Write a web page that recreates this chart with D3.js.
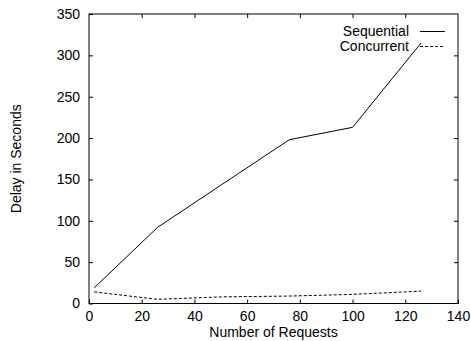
<!DOCTYPE html>
<html>
<head>
<meta charset="utf-8">
<script src="https://cdn.jsdelivr.net/npm/d3@7"></script>
<style>
  body { margin: 0; background: #fff; }
  svg { display: block; font-family: "Liberation Sans", Arial, sans-serif; }
</style>
</head>
<body>
<div id="chart"></div>
<script>
// data
const requests = [2, 26, 50, 76, 100, 126];
const sequential = [19, 92, 143, 198, 213, 315];
const concurrent = [14, 5, 8, 9, 11, 15];
const xTicks = [0, 20, 40, 60, 80, 100, 120, 140];
const yTicks = [0, 50, 100, 150, 200, 250, 300, 350];

const width = 471, height = 341;
const margin = { top: 14, right: 13, bottom: 37.5, left: 89 };
const fontSize = 14;

const svg = d3.select('#chart')
  .append('svg')
  .attr('width', width)
  .attr('height', height);

const x = d3.scaleLinear().domain([0, 140]).range([margin.left, width - margin.right]);
const y = d3.scaleLinear().domain([0, 350]).range([height - margin.bottom, margin.top]);

const tickLen = 4;

// axes with inward ticks, mirrored on top and right
svg.append('g')
  .attr('transform', `translate(0,${y(0)})`)
  .call(d3.axisBottom(x).tickValues(xTicks).tickSizeInner(-tickLen).tickSizeOuter(0).tickPadding(8))
  .call(g => g.select('.domain').remove());

svg.append('g')
  .attr('transform', `translate(0,${y(350)})`)
  .call(d3.axisTop(x).tickValues(xTicks.slice(1, -1)).tickSizeInner(-tickLen).tickSizeOuter(0).tickFormat(''))
  .call(g => g.select('.domain').remove());

svg.append('g')
  .attr('transform', `translate(${x(0)},0)`)
  .call(d3.axisLeft(y).tickValues(yTicks).tickSizeInner(-tickLen).tickSizeOuter(0).tickPadding(9))
  .call(g => g.select('.domain').remove());

svg.append('g')
  .attr('transform', `translate(${x(140)},0)`)
  .call(d3.axisRight(y).tickValues(yTicks.slice(1, -1)).tickSizeInner(-tickLen).tickSizeOuter(0).tickFormat(''))
  .call(g => g.select('.domain').remove());

svg.selectAll('.tick text')
  .attr('font-size', fontSize)
  .attr('font-family', '"Liberation Sans", Arial, sans-serif')
  .attr('fill', '#000');
svg.selectAll('.tick line').attr('stroke', '#000');

// frame
svg.append('rect')
  .attr('x', x(0))
  .attr('y', y(350))
  .attr('width', x(140) - x(0))
  .attr('height', y(0) - y(350))
  .attr('fill', 'none')
  .attr('stroke', '#000')
  .attr('stroke-width', 1);

const line = d3.line()
  .x((d, i) => x(requests[i]))
  .y(d => y(d));

svg.append('path')
  .datum(sequential)
  .attr('d', line)
  .attr('fill', 'none')
  .attr('stroke', '#000')
  .attr('stroke-width', 1);

svg.append('path')
  .datum(concurrent)
  .attr('d', line)
  .attr('fill', 'none')
  .attr('stroke', '#000')
  .attr('stroke-width', 1)
  .attr('stroke-dasharray', '3,2');

// legend
const legend = [
  { label: 'Sequential', dash: null },
  { label: 'Concurrent', dash: '3,2' }
];
const lg = svg.append('g').attr('transform', 'translate(409,36)');
legend.forEach((d, i) => {
  lg.append('text')
    .attr('x', 0)
    .attr('y', i * 15)
    .attr('text-anchor', 'end')
    .attr('font-size', fontSize)
    .text(d.label);
  lg.append('line')
    .attr('x1', 11).attr('x2', 36)
    .attr('y1', i * 15 - 4.5).attr('y2', i * 15 - 4.5)
    .attr('stroke', '#000')
    .attr('stroke-dasharray', d.dash);
});

// axis titles
svg.append('text')
  .attr('x', (x(0) + x(140)) / 2)
  .attr('y', 337)
  .attr('text-anchor', 'middle')
  .attr('font-size', fontSize)
  .text('Number of Requests');

svg.append('text')
  .attr('transform', `translate(21,${(y(0) + y(350)) / 2}) rotate(-90)`)
  .attr('text-anchor', 'middle')
  .attr('font-size', fontSize)
  .text('Delay in Seconds');
</script>
</body>
</html>
